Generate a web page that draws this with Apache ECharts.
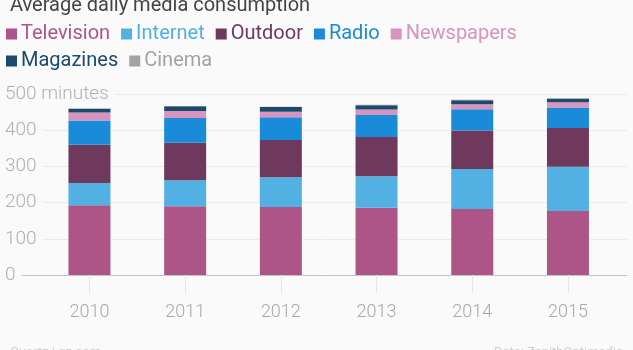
<!DOCTYPE html>
<html>
<head>
<meta charset="utf-8">
<script src="https://cdn.jsdelivr.net/npm/echarts@6/dist/echarts.min.js"></script>
<style>
html,body{margin:0;padding:0;background:#fafafa;}
#chart{width:633px;height:350px;}
</style>
</head>
<body>
<div id="chart"></div>
<script>
var years = ['2010', '2011', '2012', '2013', '2014', '2015'];
var television = [193, 190, 188, 186, 182, 177];
var internet = [61, 72, 82, 87, 111, 122];
var outdoor = [106, 103, 103, 108, 106, 107];
var radio = [67, 69, 63, 61, 59, 57];
var newspapers = [22, 19, 15, 15, 14, 14];
var magazines = [10, 13, 13, 12, 11, 10];
var cinema = [1, 1, 1, 1, 1, 1];
var yTicks = [0, 100, 200, 300, 400, 500];

var seriesDefs = [
  {name: 'Television', data: television, color: '#ad5587'},
  {name: 'Internet', data: internet, color: '#53b0e3'},
  {name: 'Outdoor', data: outdoor, color: '#6e395d'},
  {name: 'Radio', data: radio, color: '#1a8bd9'},
  {name: 'Newspapers', data: newspapers, color: '#d893be'},
  {name: 'Magazines', data: magazines, color: '#1b4a6b'},
  {name: 'Cinema', data: cinema, color: '#a3a3a3'}
];

var FONT = 'Roboto, "Noto Sans", sans-serif';
var chart = echarts.init(document.getElementById('chart'), null, {renderer: 'canvas'});

function legendData(list) {
  return list.map(function (s) {
    return {name: s.name, textStyle: {color: s.color}};
  });
}

var option = {
  backgroundColor: '#fafafa',
  animation: false,
  title: [
    {text: 'Average daily media consumption', left: 5, top: -9,
      textStyle: {fontFamily: FONT, fontSize: 20, fontWeight: 'normal', color: '#444'}},
    {text: 'Quartz | qz.com', left: 5, top: 341,
      textStyle: {fontFamily: FONT, fontSize: 13, fontWeight: 'normal', color: '#cfcfcf'}},
    {text: 'Data: ZenithOptimedia', right: 5, top: 341,
      textStyle: {fontFamily: FONT, fontSize: 13, fontWeight: 'normal', color: '#cfcfcf'}}
  ],
  legend: [
    {data: legendData(seriesDefs.slice(0, 5)), left: 6, top: 24, padding: 0,
      icon: 'rect', itemWidth: 11, itemHeight: 11, itemGap: 11,
      textStyle: {fontFamily: FONT, fontSize: 20, padding: [0, 0, 0, -1]}, selectedMode: false},
    {data: legendData(seriesDefs.slice(5)), left: 6, top: 51, padding: 0,
      icon: 'rect', itemWidth: 11, itemHeight: 11, itemGap: 11,
      textStyle: {fontFamily: FONT, fontSize: 20, padding: [0, 0, 0, -1]}, selectedMode: false}
  ],
  grid: [
    {left: 22, right: 6, top: 94, bottom: 75},
    {left: 41.6, right: 17.2, top: 94, bottom: 75}
  ],
  xAxis: [
    {type: 'value', gridIndex: 0, min: 0, max: 1,
      axisLine: {show: true, onZero: false, lineStyle: {color: '#c4c4c4', width: 1}},
      axisTick: {show: false}, axisLabel: {show: false}, splitLine: {show: false}},
    {type: 'category', gridIndex: 1, data: years,
      axisLine: {show: false},
      axisTick: {show: true, alignWithLabel: true, length: 18, lineStyle: {color: '#e6e6e6'}},
      axisLabel: {fontFamily: FONT, fontSize: 18, fontWeight: 300, color: '#a8a8a8', margin: 28}}
  ],
  yAxis: [
    {type: 'value', gridIndex: 0, min: 0, max: 500, interval: 100,
      axisLine: {show: false}, axisTick: {show: false},
      splitLine: {lineStyle: {color: '#ececec', width: 1}},
      axisLabel: {fontFamily: FONT, fontSize: 19, fontWeight: 300, color: '#b0b0b0',
        align: 'left', margin: 17, backgroundColor: '#fafafa', padding: [0, 6, 0, 0],
        formatter: function (v) { return v === 500 ? v + ' minutes' : String(v); }}},
    {type: 'value', gridIndex: 1, min: 0, max: 500, interval: 100, show: false}
  ],
  series: seriesDefs.map(function (s) {
    return {
      name: s.name, type: 'bar', stack: 'total', xAxisIndex: 1, yAxisIndex: 1,
      data: s.data, barWidth: 42, itemStyle: {color: s.color}
    };
  })
};
chart.setOption(option);
</script>
</body>
</html>
